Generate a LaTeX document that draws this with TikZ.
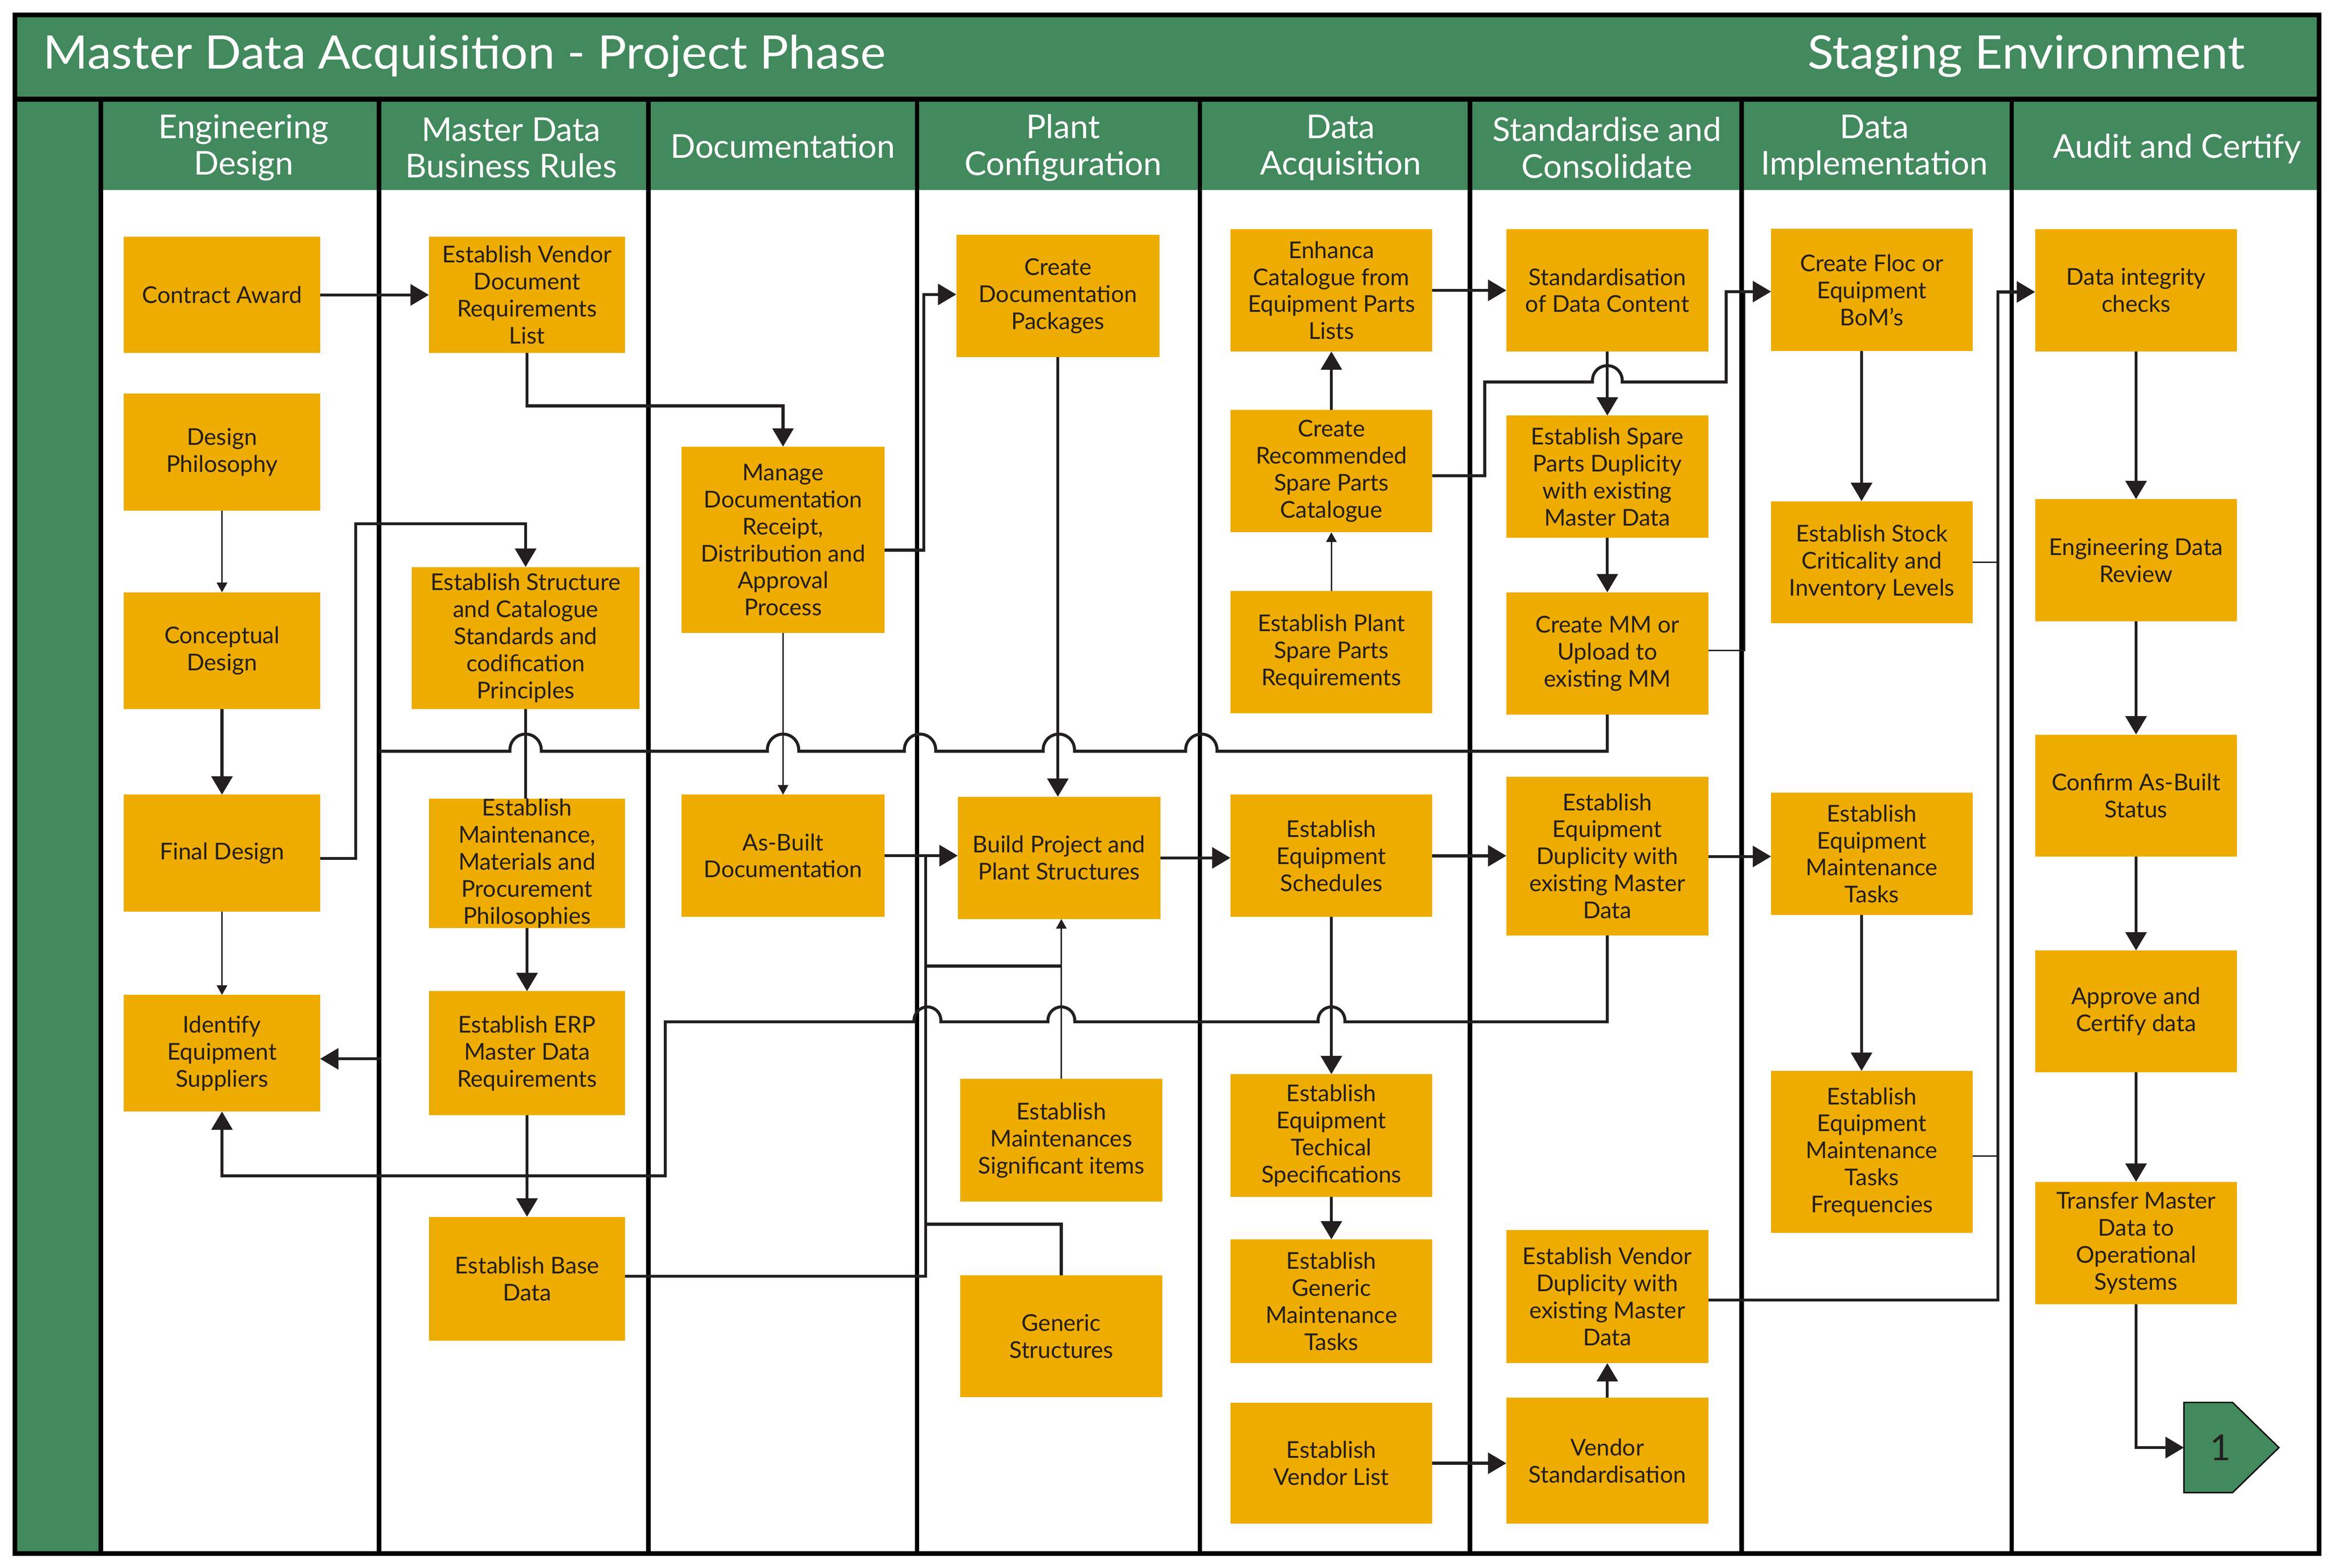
\documentclass[tikz,border=0pt]{standalone}
\usepackage{fontspec}
\setmainfont{Lato}
\usetikzlibrary{arrows.meta}
\definecolor{hdr}{RGB}{66,137,94}
\definecolor{boxc}{RGB}{239,172,0}
\definecolor{ink}{RGB}{35,31,32}
\newcommand\BX[6]{\node[box, minimum width={(#4)-(#2)}, minimum height={(#5)-(#3)}] (#1) at ({((#2)+(#4))/2},{((#3)+(#5))/2}) {#6};}
\newcommand\hopL[3]{-- ({#1+#3},#2) -- ({#1+#3},{#2-1}) .. controls ({#1+#3},{#2-1-0.5523*#3}) and ({#1+0.5523*#3},{#2-1-#3}) .. (#1,{#2-1-#3}) .. controls ({#1-0.5523*#3},{#2-1-#3}) and ({#1-#3},{#2-1-0.5523*#3}) .. ({#1-#3},{#2-1}) -- ({#1-#3},#2)}
\newcommand\hopR[3]{-- ({#1-#3},#2) -- ({#1-#3},{#2-1}) .. controls ({#1-#3},{#2-1-0.5523*#3}) and ({#1-0.5523*#3},{#2-1-#3}) .. (#1,{#2-1-#3}) .. controls ({#1+0.5523*#3},{#2-1-#3}) and ({#1+#3},{#2-1-0.5523*#3}) .. ({#1+#3},{#2-1}) -- ({#1+#3},#2)}
\tikzset{
  box/.style={fill=boxc, draw=none, inner sep=0pt, outer sep=0pt, align=center, text=ink, font=\fontsize{15.5}{18.1}\selectfont},
  lanehd/.style={text=white, align=center, font=\fontsize{22}{24.5}\selectfont, inner sep=0pt},
  ttl/.style={text=white, font=\fontsize{31}{37}\selectfont, inner sep=0pt, xscale=1.043},
  conn/.style={draw=ink, line width=2pt},
  bconn/.style={draw=ink, line width=1pt},
  tconn/.style={draw=ink, line width=1pt},
  arr/.style={-{Triangle[length=12.3pt,width=14pt]}},
  sarr/.style={-{Triangle[length=6.5pt,width=7pt]}},
  frame/.style={draw=black, line width=3.2pt},
  lane/.style={draw=black, line width=3pt}
}
\begin{document}
\begin{tikzpicture}[x=1pt,y=-1pt]
\useasboundingbox (0,0) rectangle (1564,1050.5);
% background and frame
\fill[hdr] (10,10) rectangle (1554,1041);
\fill[white] (67.5,127.3) rectangle (1554,1041);
\foreach \x in {67.5,254,434.5,614.5,804,985,1167,1348} \draw[lane] (\x,66.5) -- (\x,1041);
\draw[frame] (10,66.5) -- (1554,66.5);
\draw[frame] (10,10) rectangle (1554,1041);
% titles
\node[ttl, anchor=base west] (title) at (28.8,46) {Master Data Acquisition - Project Phase};
\node[ttl, anchor=base east] (stage) at (1504.5,46) {Staging Environment};
% lane headers
\node[lanehd] (h1) at (163.3,99) {Engineering\\Design};
\node[lanehd] (h2) at (342.5,99) {Master Data\\Business Rules};
\node[lanehd, anchor=base] (h3) at (524.5,105.8) {Documentation};
\node[lanehd] (h4) at (712.4,99) {Plant\\Configuration};
\node[lanehd] (h5) at (898.4,99) {Data\\Acquisition};
\node[lanehd] (h6) at (1076.8,99) {Standardise and\\Consolidate};
\node[lanehd] (h7) at (1256,99) {Data\\Implementation};
\node[lanehd, anchor=base] (h8) at (1458.9,105.8) {Audit and Certify};
% lane 1
\BX{ca}{83}{158.7}{214.5}{236.5}{Contract Award}
\BX{dp}{83}{263.8}{214.5}{342.3}{Design\\Philosophy}
\BX{cd}{83}{396.9}{214.5}{475.1}{Conceptual\\Design}
\BX{fd}{83}{532.5}{214.5}{611}{Final Design}
\BX{ies}{83}{666.7}{214.5}{744.8}{Identify\\Equipment\\Suppliers}
% lane 2
\BX{evdrl}{287.4}{158.7}{418.9}{236.5}{Establish Vendor\\Document\\Requirements\\List}
\BX{esc}{276}{379.9}{428.4}{475.1}{Establish Structure\\and Catalogue\\Standards and\\codification\\Principles}
\BX{emm}{287.4}{535.5}{418.9}{621.4}{Establish\\Maintenance,\\Materials and\\Procurement\\Philosophies}
\BX{erp}{287.4}{664.2}{418.9}{747.3}{Establish ERP\\Master Data\\Requirements}
\BX{ebd}{287.4}{815.3}{418.9}{898.4}{Establish Base\\Data}
% lane 3
\BX{mdr}{456.7}{299.3}{592.7}{424.2}{Manage\\Documentation\\Receipt,\\Distribution and\\Approval\\Process}
\BX{abd}{456.7}{532.5}{592.7}{614.2}{As-Built\\Documentation}
% lane 4
\BX{cdp}{640.8}{157.3}{776.9}{239.2}{Create\\Documentation\\Packages}
\BX{bpp}{641.8}{533.9}{777.5}{615.8}{Build Project and\\Plant Structures}
\BX{ems}{643.5}{723}{778.9}{805}{Establish\\Maintenances\\Significant items}
\BX{gs}{643.5}{854.5}{778.9}{936.2}{Generic\\Structures}
% lane 5
\BX{ecf}{824.5}{153.6}{959.8}{235.5}{Enhanca\\Catalogue from\\Equipment Parts\\Lists}
\BX{crs}{824.5}{274.7}{959.8}{356.7}{Create\\Recommended\\Spare Parts\\Catalogue}
\BX{eps}{824.5}{395.9}{959.8}{477.8}{Establish Plant\\Spare Parts\\Requirements}
\BX{ees}{824.5}{532.5}{959.8}{614.4}{Establish\\Equipment\\Schedules}
\BX{ets}{824.5}{719.8}{959.8}{801.9}{Establish\\Equipment\\Techical\\Specifications}
\BX{egm}{824.5}{830.5}{959.8}{913.4}{Establish\\Generic\\Maintenance\\Tasks}
\BX{evl}{824.5}{939.9}{959.8}{1021.1}{Establish\\Vendor List}
% lane 6
\BX{sdc}{1009.4}{153.6}{1144.7}{235.5}{Standardisation\\of Data Content}
\BX{spd}{1009.4}{278.5}{1144.7}{360.4}{Establish Spare\\Parts Duplicity\\with existing\\Master Data}
\BX{cmm}{1009.4}{396.9}{1144.7}{478.8}{Create MM or\\Upload to\\existing MM}
\BX{eed}{1009.4}{520.4}{1144.7}{626.8}{Establish\\Equipment\\Duplicity with\\existing Master\\Data}
\BX{evd}{1009.4}{824.2}{1144.7}{913.4}{Establish Vendor\\Duplicity with\\existing Master\\Data}
\BX{vs}{1009.4}{936.6}{1144.7}{1021.1}{Vendor\\Standardisation}
% lane 7
\BX{cfb}{1186.8}{153.4}{1321.8}{235.2}{Create Floc or\\Equipment\\BoM’s}
\BX{esl}{1186.8}{335.8}{1321.8}{417.7}{Establish Stock\\Criticality and\\Inventory Levels}
\BX{eemt}{1186.8}{531.1}{1321.8}{613.1}{Establish\\Equipment\\Maintenance\\Tasks}
\BX{eemf}{1186.8}{717.6}{1321.8}{826.2}{Establish\\Equipment\\Maintenance\\Tasks\\Frequencies}
% lane 8
\BX{dic}{1363.7}{153.6}{1499}{235.5}{Data integrity\\checks}
\BX{edr}{1363.7}{334.5}{1499}{416.4}{Engineering Data\\Review}
\BX{cab}{1363.7}{492.2}{1499}{573.9}{Confirm As-Built\\Status}
\BX{acd}{1363.7}{636.9}{1499}{718.5}{Approve and\\Certify data}
\BX{tmd}{1363.7}{791.9}{1499}{873.9}{Transfer Master\\Data to\\Operational\\Systems}
% off-page connector
\draw[fill=hdr, draw=black, line width=0.9pt] (1463.4,939.7) -- (1496,939.7) -- (1527.1,970) -- (1496,1000.2) -- (1463.4,1000.2) -- cycle;
\coordinate (pentw) at (1463.4,970);
\node[text=ink, font=\fontsize{24}{28}\selectfont, inner sep=0pt] (one) at (1488,970) {1};
% connectors
\draw[conn,arr] (ca.east) -- (evdrl.west);
\draw[conn,arr] (evdrl.south) -- (evdrl.south |- 0,272) -| (mdr.north);
\draw[conn,arr] (mdr.east |- 0,368.6) -| (619,197.3) -- (cdp.west |- 0,197.3);
\draw[tconn,sarr] (dp.south) -- (cd.north);
\draw[conn,arr] (cd.south) -- (fd.north);
\draw[conn,arr] (fd.east |- 0,575.3) -| (238.3,350.9) -| (esc.north);
\draw[tconn,sarr] (fd.south) -- (ies.north);
\draw[conn] (esc.south) -- (esc.south |- emm.north);
\draw[conn,arr] (emm.south) -- (erp.north);
\draw[conn,arr] (erp.south) -- (ebd.north);
\coordinate (l2in) at (255.6,709.5);
\draw[conn,arr] (l2in) -- (ies.east |- l2in);
\draw[conn,arr] (eed.south) -- (eed.south |- 0,684.7) \hopL{892.2}{684.7}{9} \hopL{711.2}{684.7}{9} \hopL{621.5}{684.7}{9} -- (445.8,684.7) -- (445.8,787.9) -| (ies.south);
\coordinate (l2b) at (254,503.4);
\draw[conn] (cmm.south) -- (cmm.south |- 0,503.4) \hopL{805}{503.4}{10.5} \hopL{709.5}{503.4}{10.5} \hopL{616.5}{503.4}{10.5} \hopL{524.7}{503.4}{10.5} \hopL{352.2}{503.4}{10.5} -- (l2b);
\draw[tconn,sarr] (mdr.south) -- (abd.north);
\draw[conn,arr] (cdp.south) -- (cdp.south |- bpp.north);
\draw[conn,arr] (abd.east) -- (bpp.west |- abd.east);
\draw[conn] (ebd.east |- 0,855.2) -| (620.3,573.35);
\draw[tconn,sarr] (ems.north) -- (ems.north |- bpp.south);
\draw[conn] (ems.north |- 0,647.3) -- (620.3,647.3);
\draw[conn] (gs.north) |- (620.3,820.3);
\draw[conn,arr] (bpp.east) -- (ees.west |- bpp.east);
\draw[conn,arr] (crs.north) -- (ecf.south);
\draw[tconn,sarr] (eps.north) -- (crs.south);
\draw[conn,arr] (ecf.east) -- (sdc.west);
\draw[conn,arr] (sdc.south) -- (spd.north);
\draw[conn,arr] (crs.east |- 0,318.8) -| (994.9,256) \hopR{1077.05}{256}{10} -- (1156.7,256) |- (cfb.west |- 0,195.4);
\draw[conn,arr] (spd.south) -- (cmm.north);
\draw[bconn] (cmm.east |- 0,435.8) -| (1169.2,195.4);
\draw[conn,arr] (1247.4,0 |- cfb.south) -- (1247.4,0 |- esl.north);
\draw[bconn] (esl.east) -- (1338.7,0 |- esl.east);
\draw[conn,arr] (evd.east |- 0,871.1) -| (1338.7,195.6) -- (dic.west |- 0,195.6);
\draw[bconn] (eemf.east |- 0,774.6) -- (1338.7,774.6);
\draw[conn,arr] (dic.south) -- (edr.north);
\draw[conn,arr] (edr.south) -- (cab.north);
\draw[conn,arr] (cab.south) -- (acd.north);
\draw[conn,arr] (acd.south) -- (tmd.north);
\draw[conn,arr] (tmd.south) |- (pentw);
\draw[conn,arr] (ees.south) -- (ets.north);
\draw[conn,arr] (ets.south) -- (egm.north);
\draw[conn,arr] (ees.east) -- (eed.west |- ees.east);
\draw[conn,arr] (eed.east |- 0,573.9) -- (eemt.west |- 0,573.9);
\draw[conn,arr] (1247.4,0 |- eemt.south) -- (1247.4,0 |- eemf.north);
\draw[conn,arr] (evl.east) -- (vs.west |- evl.east);
\draw[conn,arr] (vs.north) -- (evd.south);
\end{tikzpicture}
\end{document}
